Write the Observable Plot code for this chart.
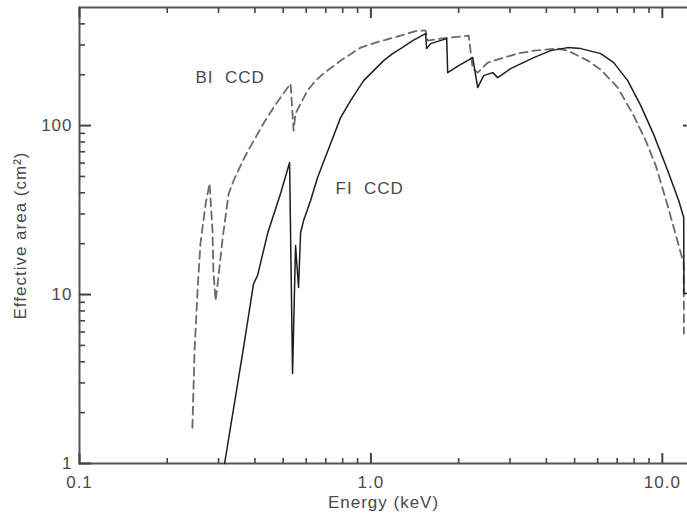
<!DOCTYPE html>
<html>
<head>
<meta charset="utf-8">
<script src="https://cdn.jsdelivr.net/npm/d3@7"></script>
<script src="https://cdn.jsdelivr.net/npm/@observablehq/plot@0.6"></script>
<style>
html, body { margin: 0; padding: 0; background: #fff; overflow: hidden; }
#chart svg { font-family: "Liberation Sans", Arial, sans-serif; font-size: 17px; letter-spacing: 1px; color: #4a4a4a; background: #fff; }
</style>
</head>
<body>
<div id="chart"></div>
<script>
// BI CCD (dashed) effective area curve, keV vs cm^2
const biEnergy = [0.244, 0.2482, 0.2542, 0.260, 0.271, 0.2795, 0.286, 0.288, 0.293, 0.298, 0.310, 0.325, 0.3404, 0.357, 0.3773, 0.4018, 0.4315, 0.4634, 0.4977, 0.530, 0.543, 0.551, 0.5737, 0.606, 0.6459, 0.688, 0.787, 0.922, 1.038, 1.197, 1.446, 1.541, 1.565, 1.735, 2.165, 2.235, 2.325, 2.515, 2.788, 3.189, 3.619, 4.375, 4.735, 5.546, 6.146, 7.03, 7.977, 8.77, 9.494, 10.43, 11.38, 11.84, 11.86];
const biArea   = [1.63, 4.66, 10.6, 20.0, 34.5, 45.4, 23.9, 13.9, 9.2, 11.6, 21.7, 39.6, 48.6, 58.0, 70.2, 84.9, 105.6, 127.8, 152.6, 177.2, 93.4, 117.8, 134.9, 161.1, 184.6, 203.2, 242.5, 289.4, 309.8, 331.6, 364.9, 364.9, 318.4, 327.1, 340.8, 217.5, 205.8, 236.0, 249.2, 266.7, 277.8, 285.5, 277.8, 242.5, 214.5, 167.8, 114.6, 81.5, 58.0, 33.6, 19.5, 15.3, 5.88];

// FI CCD (solid) effective area curve, keV vs cm^2
const fiEnergy = [0.3147, 0.3656, 0.3956, 0.4083, 0.4419, 0.4898, 0.5259, 0.5384, 0.5513, 0.5645, 0.5737, 0.5875, 0.6209, 0.6561, 0.7274, 0.787, 0.8518, 0.944, 1.106, 1.187, 1.265, 1.391, 1.541, 1.553, 1.603, 1.820, 1.834, 2.001, 2.235, 2.325, 2.437, 2.617, 2.723, 3.017, 3.619, 4.140, 4.735, 5.248, 6.146, 6.81, 7.607, 8.433, 9.344, 10.43, 11.38, 11.84, 11.86, 12.2];
const fiArea   = [1.0, 4.86, 11.6, 12.95, 22.96, 39.6, 60.4, 3.41, 19.5, 11.0, 23.3, 27.4, 36.0, 49.3, 78.3, 111.5, 140.6, 184.6, 242.5, 266.7, 285.5, 318.4, 350.3, 285.5, 305.6, 327.1, 205.8, 226.5, 252.6, 167.8, 197.6, 205.8, 192.3, 217.5, 252.6, 277.8, 289.4, 285.5, 266.7, 236.0, 184.6, 131.3, 88.4, 54.2, 36.0, 28.6, 10.14, 10.14];

// Curve annotations
const labelText   = ["BI  CCD", "FI  CCD"];
const labelEnergy = [0.250, 0.756];
const labelArea   = [192, 42.4];

// Axis ticks
const xMajorTicks  = [0.1, 1, 10];
const xMajorLabels = ["0.1", "1.0", "10.0"];
const xMinorTicks  = [0.2, 0.3, 0.4, 0.5, 0.6, 0.7, 0.8, 0.9, 2, 3, 4, 5, 6, 7, 8, 9];
const yMajorTicks  = [1, 10, 100];
const yMajorLabels = ["1", "10", "100"];
const yMinorTicks  = [2, 3, 4, 5, 6, 7, 8, 9, 20, 30, 40, 50, 60, 70, 80, 90, 200, 300, 400];
const yRightTicks  = [100];

const biData = biEnergy.map((e, i) => ({energy: e, area: biArea[i]}));
const fiData = fiEnergy.map((e, i) => ({energy: e, area: fiArea[i]}));
const labels = labelText.map((t, i) => ({text: t, energy: labelEnergy[i], area: labelArea[i]}));

const W = 687, H = 513, ML = 79, MR = 0, MT = 7, MB = 50;
const frameColor = "#555555";
const tickColor = "#444444";

const chart = Plot.plot({
  width: W,
  height: H,
  marginLeft: ML,
  marginRight: MR,
  marginTop: MT,
  marginBottom: MB,
  x: {type: "log", domain: [0.1, 12.2]},
  y: {type: "log", domain: [1, 500]},
  marks: [
    // frame (left, top, bottom)
    Plot.frame({anchor: "left", stroke: frameColor, strokeWidth: 2}),
    Plot.frame({anchor: "top", stroke: frameColor, strokeWidth: 2}),
    Plot.frame({anchor: "bottom", stroke: frameColor, strokeWidth: 2}),
    // inward ticks (labels suppressed)
    Plot.axisX({anchor: "bottom", ticks: xMajorTicks, tickSize: -10, tickFormat: () => "", stroke: tickColor, strokeWidth: 2, label: null}),
    Plot.axisX({anchor: "bottom", ticks: xMinorTicks, tickSize: -5, tickFormat: () => "", stroke: tickColor, strokeWidth: 1.6, label: null}),
    Plot.axisX({anchor: "top", ticks: xMajorTicks, tickSize: -10, tickFormat: () => "", stroke: tickColor, strokeWidth: 2, label: null}),
    Plot.axisX({anchor: "top", ticks: xMinorTicks, tickSize: -5, tickFormat: () => "", stroke: tickColor, strokeWidth: 1.6, label: null}),
    Plot.axisY({anchor: "left", ticks: yMajorTicks, tickSize: -12, tickFormat: () => "", stroke: tickColor, strokeWidth: 2, label: null}),
    Plot.axisY({anchor: "left", ticks: yMinorTicks, tickSize: -6, tickFormat: () => "", stroke: tickColor, strokeWidth: 1.6, label: null}),
    Plot.axisY({anchor: "right", ticks: yRightTicks, tickSize: -5, tickFormat: () => "", stroke: tickColor, strokeWidth: 2, label: null}),
    // tick labels + axis titles
    Plot.axisX({anchor: "bottom", ticks: xMajorTicks, tickSize: 0, tickPadding: 12,
      tickFormat: d => xMajorLabels[xMajorTicks.indexOf(d)],
      label: "Energy (keV)", labelAnchor: "center", labelOffset: 44, labelArrow: "none"}),
    Plot.axisY({anchor: "left", ticks: yMajorTicks, tickSize: 0, tickPadding: 7,
      tickFormat: d => yMajorLabels[yMajorTicks.indexOf(d)],
      label: "Effective area (cm²)", labelAnchor: "center", labelOffset: 66, labelArrow: "none"}),
    // curves
    Plot.line(biData, {x: "energy", y: "area", stroke: "#6a6a6a", strokeWidth: 1.8, strokeDasharray: "8,5"}),
    Plot.line(fiData, {x: "energy", y: "area", stroke: "#1e1e1e", strokeWidth: 1.5}),
    // annotations
    Plot.text(labels, {x: "energy", y: "area", text: "text", textAnchor: "start", fill: "#4a4a4a"})
  ]
});

document.getElementById("chart").appendChild(chart);
</script>
</body>
</html>
